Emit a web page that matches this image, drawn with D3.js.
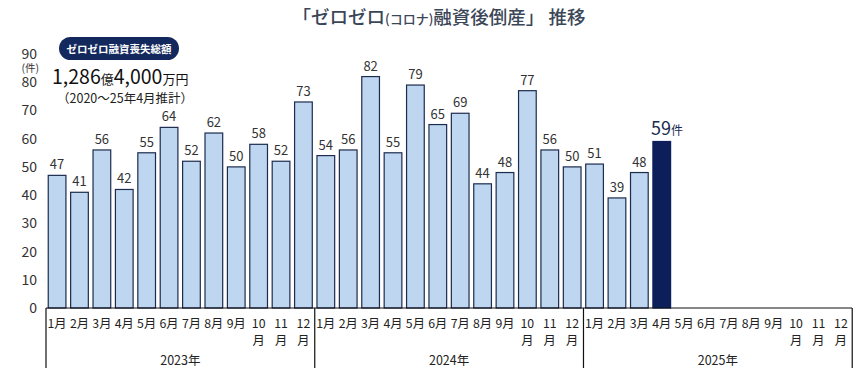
<!DOCTYPE html>
<html><head><meta charset="utf-8">
<script src="https://cdn.jsdelivr.net/npm/d3@7"></script>
<style>
html,body{margin:0;padding:0;background:#fff;}
svg{display:block;font-family:"Noto Sans CJK JP","Noto Sans",sans-serif;}
</style></head>
<body>
<svg id="chart" width="868" height="376"></svg>
<script>
const years = ["2023年", "2024年", "2025年"];
const monthLabels = ["1月","2月","3月","4月","5月","6月","7月","8月","9月","10月","11月","12月"];
const values2023 = [47,41,56,42,55,64,52,62,50,58,52,73];
const values2024 = [54,56,82,55,79,65,69,44,48,77,56,50];
const values2025 = [51,39,48,59];
const yTicks = [0,10,20,30,40,50,60,70,80,90];
const titleText = ["「ゼロゼロ", "(コロナ)", "融資後倒産」 推移"];
const badgeText = "ゼロゼロ融資喪失総額";
const totalParts = [["1,286", 19.5], ["億", 13], ["4,000", 19.5], ["万円", 13]];
const noteText = "（2020～25年4月推計）";
const lastUnit = "件";

const svg = d3.select("#chart");
const seriesByYear = [values2023, values2024, values2025];
const slots = [];
years.forEach((y, yi) => monthLabels.forEach((m, mi) => {
  slots.push({key: y + m, year: y, yi, mi, month: m, value: seriesByYear[yi][mi]});
}));

const left = 46, right = 852, y0 = 308;
const x = d3.scaleBand().domain(slots.map(d => d.key)).range([left, right]).paddingInner(0.21).paddingOuter(0.1);
const y = d3.scaleLinear().domain([0, 90]).range([y0, 54]);
const step = x.step();

// title
const t = svg.append("text").attr("x", 439).attr("y", 24).attr("text-anchor", "middle")
  .attr("fill", "#3b4657").attr("font-size", 18.5).attr("font-weight", 500);
t.append("tspan").text(titleText[0]);
t.append("tspan").attr("font-size", 13).text(titleText[1]);
t.append("tspan").text(titleText[2]);

// y axis labels
const yAxis = d3.axisLeft(y).tickValues(yTicks).tickSize(0).tickPadding(0);
const ga = svg.append("g").attr("transform", "translate(37,0)").call(yAxis);
ga.select(".domain").remove();
ga.selectAll("text").attr("font-size", 14).attr("fill", "#333").attr("font-family", "'Noto Sans CJK JP',sans-serif");
svg.append("text").attr("x", 39).attr("y", 72).attr("text-anchor", "end").attr("font-size", 10.5).attr("fill", "#333").text("(件)");

// bars
const withData = slots.filter(d => d.value !== undefined);
const lastKey = withData[withData.length - 1].key;
svg.append("g").selectAll("rect").data(withData).join("rect")
  .attr("x", d => x(d.key)).attr("width", x.bandwidth())
  .attr("y", d => y(d.value)).attr("height", d => y0 - y(d.value))
  .attr("fill", d => d.key === lastKey ? "#0c1f5a" : "#bed6ef")
  .attr("stroke", d => d.key === lastKey ? "#0c1f5a" : "#1c2b4e").attr("stroke-width", 1.2);

// value labels
svg.append("g").selectAll("text").data(withData.filter(d => d.key !== lastKey)).join("text")
  .attr("x", d => x(d.key) + x.bandwidth() / 2).attr("y", d => y(d.value) - 6)
  .attr("text-anchor", "middle").attr("font-size", 13).attr("fill", "#333")
  .text(d => d.value);
const last = withData[withData.length - 1];
const lt = svg.append("text").attr("x", x(last.key) - 2).attr("y", y(last.value) - 6)
  .attr("fill", "#1b2a50");
lt.append("tspan").attr("font-size", 18).text(last.value);
lt.append("tspan").attr("font-size", 12).text(lastUnit);

// x axis
svg.append("line").attr("x1", left).attr("x2", right).attr("y1", y0).attr("y2", y0).attr("stroke", "#111").attr("stroke-width", 1.2);
const bounds = [0, 12, 24, 36];
svg.append("g").selectAll("line").data(bounds).join("line")
  .attr("x1", i => left + i * step).attr("x2", i => left + i * step)
  .attr("y1", y0).attr("y2", 368).attr("stroke", "#111").attr("stroke-width", 1.2);

const ml = svg.append("g").selectAll("text").data(slots).join("text")
  .attr("x", d => x(d.key) + x.bandwidth() / 2).attr("y", 327.5)
  .attr("text-anchor", "middle").attr("font-size", 12.3).attr("fill", "#222");
ml.each(function(d) {
  const s = d3.select(this);
  if (d.mi >= 9) {
    s.append("tspan").attr("x", x(d.key) + x.bandwidth() / 2).text(d.month.replace("月", ""));
    s.append("tspan").attr("x", x(d.key) + x.bandwidth() / 2).attr("dy", 17).text("月");
  } else {
    s.text(d.month);
  }
});

svg.append("g").selectAll("text").data(years).join("text")
  .attr("x", (d, i) => left + (i * 12 + 6) * step).attr("y", 365)
  .attr("text-anchor", "middle").attr("font-size", 12.5).attr("fill", "#222").text(d => d);

// badge
svg.append("rect").attr("x", 59).attr("y", 37).attr("width", 120).attr("height", 23).attr("rx", 11.5).attr("fill", "#13285c");
svg.append("text").attr("x", 119).attr("y", 52.5).attr("text-anchor", "middle").attr("font-size", 10.5).attr("font-weight", 700).attr("fill", "#fff").text(badgeText);

const tot = svg.append("text").attr("x", 52).attr("y", 84).attr("fill", "#111");
totalParts.forEach(p => tot.append("tspan").attr("font-size", p[1]).text(p[0]));
svg.append("text").attr("x", 57).attr("y", 103).attr("font-size", 12.5).attr("fill", "#222").text(noteText);
</script>
</body></html>
